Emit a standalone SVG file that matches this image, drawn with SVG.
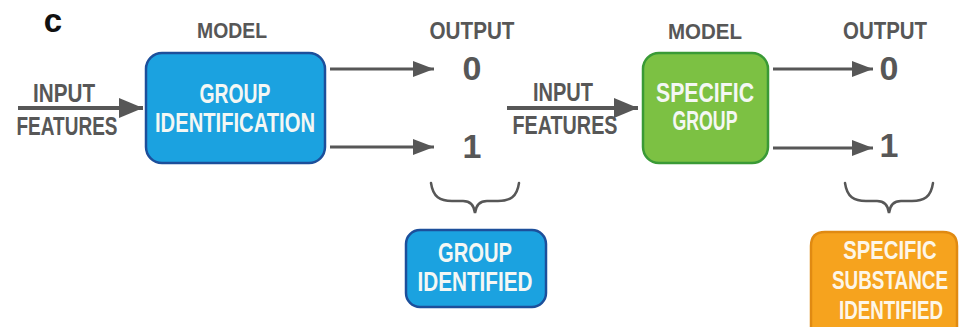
<svg xmlns="http://www.w3.org/2000/svg" width="960" height="327" viewBox="0 0 960 327">
  <style>
    .lbl { font-family: "Liberation Sans", Arial, sans-serif; font-weight: bold; fill: #575757; text-anchor: middle; }
    .box-txt { font-family: "Liberation Sans", Arial, sans-serif; font-weight: bold; fill: #f4f7f4; text-anchor: middle; font-size: 27px; }
    .box-txt-sm { font-family: "Liberation Sans", Arial, sans-serif; font-weight: bold; fill: #fdf6e8; text-anchor: middle; font-size: 25px; }
    .digit { font-family: "Liberation Sans", Arial, sans-serif; font-weight: bold; fill: #575757; text-anchor: middle; font-size: 34px; }
    .blue { fill: #1ba2e0; stroke: #1c4f9b; stroke-width: 2.5; }
    .green { fill: #7cc143; stroke: #3a9a36; stroke-width: 2.5; }
    .orange { fill: #f6a31e; stroke: #e08a12; stroke-width: 2.5; }
    .arrow-in { stroke: #575757; stroke-width: 4; fill: none; marker-end: url(#head-lg); }
    .arrow-out { stroke: #575757; stroke-width: 3; fill: none; marker-end: url(#head-sm); }
    .brace { stroke: #575757; stroke-width: 2.5; fill: none; stroke-linecap: round; }
  </style>
  <defs>
    <marker id="head-lg" markerUnits="userSpaceOnUse" markerWidth="24" markerHeight="20" viewBox="0 0 24 20" refX="24" refY="10" orient="auto">
      <path d="M0,0 L24,10 L0,20 Z" fill="#575757"/>
    </marker>
    <marker id="head-sm" markerUnits="userSpaceOnUse" markerWidth="21" markerHeight="16" viewBox="0 0 21 16" refX="21" refY="8" orient="auto">
      <path d="M0,0 L21,8 L0,16 Z" fill="#575757"/>
    </marker>
  </defs>

  <rect width="960" height="327" fill="#ffffff"/>

  <!-- panel letter -->
  <text x="53" y="32" font-family="Liberation Sans, Arial, sans-serif" font-weight="bold" font-size="33" fill="#111" text-anchor="middle">c</text>

  <!-- column headings -->
  <g id="headings">
    <text class="lbl" x="232" y="38" font-size="22" textLength="70" lengthAdjust="spacingAndGlyphs">MODEL</text>
    <text class="lbl" x="472" y="39" font-size="23" textLength="85" lengthAdjust="spacingAndGlyphs">OUTPUT</text>
    <text class="lbl" x="705" y="39" font-size="22" textLength="74" lengthAdjust="spacingAndGlyphs">MODEL</text>
    <text class="lbl" x="885" y="39" font-size="23" textLength="84" lengthAdjust="spacingAndGlyphs">OUTPUT</text>
  </g>

  <!-- input labels -->
  <g id="input-1">
    <text class="lbl" x="64" y="102" font-size="26" textLength="62" lengthAdjust="spacingAndGlyphs">INPUT</text>
    <text class="lbl" x="67" y="135" font-size="26" textLength="101" lengthAdjust="spacingAndGlyphs">FEATURES</text>
  </g>
  <g id="input-2">
    <text class="lbl" x="563" y="101" font-size="26" textLength="60" lengthAdjust="spacingAndGlyphs">INPUT</text>
    <text class="lbl" x="565" y="134" font-size="26" textLength="105" lengthAdjust="spacingAndGlyphs">FEATURES</text>
  </g>

  <!-- model: group identification -->
  <g id="group-identification">
    <rect class="blue" x="146" y="53" width="179" height="110" rx="16"/>
    <text class="box-txt" x="235" y="103" textLength="71" lengthAdjust="spacingAndGlyphs">GROUP</text>
    <text class="box-txt" x="235" y="132" textLength="160" lengthAdjust="spacingAndGlyphs">IDENTIFICATION</text>
  </g>

  <!-- model: specific group -->
  <g id="specific-group">
    <rect class="green" x="643" y="53" width="125" height="110" rx="16"/>
    <text class="box-txt" x="705" y="102" textLength="98" lengthAdjust="spacingAndGlyphs">SPECIFIC</text>
    <text class="box-txt" x="705" y="130" textLength="65" lengthAdjust="spacingAndGlyphs">GROUP</text>
  </g>

  <!-- outputs -->
  <g id="output-1">
    <text class="digit" x="472" y="80">0</text>
    <text class="digit" x="472" y="158">1</text>
  </g>
  <g id="output-2">
    <text class="digit" x="889" y="80">0</text>
    <text class="digit" x="889" y="157">1</text>
  </g>

  <!-- results -->
  <g id="group-identified">
    <rect class="blue" x="406" y="230" width="140" height="77" rx="14"/>
    <text class="box-txt" x="475" y="262" textLength="74" lengthAdjust="spacingAndGlyphs">GROUP</text>
    <text class="box-txt" x="475" y="291" textLength="115" lengthAdjust="spacingAndGlyphs">IDENTIFIED</text>
  </g>
  <g id="substance-identified">
    <!-- box runs off the bottom edge: rounded top, open bottom -->
    <path class="orange" d="M811,327 L811,246 Q811,232 825,232 L943,232 Q957,232 957,246 L957,327"/>
    <text class="box-txt-sm" transform="translate(890,259) scale(0.81,1)">SPECIFIC</text>
    <text class="box-txt-sm" transform="translate(890,289) scale(0.755,1)">SUBSTANCE</text>
    <text class="box-txt-sm" transform="translate(891,319) scale(0.75,1)">IDENTIFIED</text>
  </g>

  <!-- connectors -->
  <g id="connectors">
    <line class="arrow-in" x1="18" y1="108" x2="143" y2="108"/>
    <line class="arrow-out" x1="330" y1="69" x2="434" y2="69"/>
    <line class="arrow-out" x1="330" y1="147" x2="434" y2="147"/>
    <line class="arrow-in" x1="507" y1="108" x2="638" y2="108"/>
    <line class="arrow-out" x1="773" y1="69" x2="873" y2="69"/>
    <line class="arrow-out" x1="773" y1="148" x2="873" y2="148"/>
    <path class="brace" d="M431,183 C433,197 440,201 452,201 L463,201 C470,201 474,205 475,213 C476,205 480,201 487,201 L498,201 C510,201 517,197 519,183"/>
    <path class="brace" d="M845,183 C847,197 854,201 866,201 L877,201 C884,201 888,205 889,213 C890,205 894,201 901,201 L912,201 C924,201 931,197 933,183"/>
  </g>
</svg>
